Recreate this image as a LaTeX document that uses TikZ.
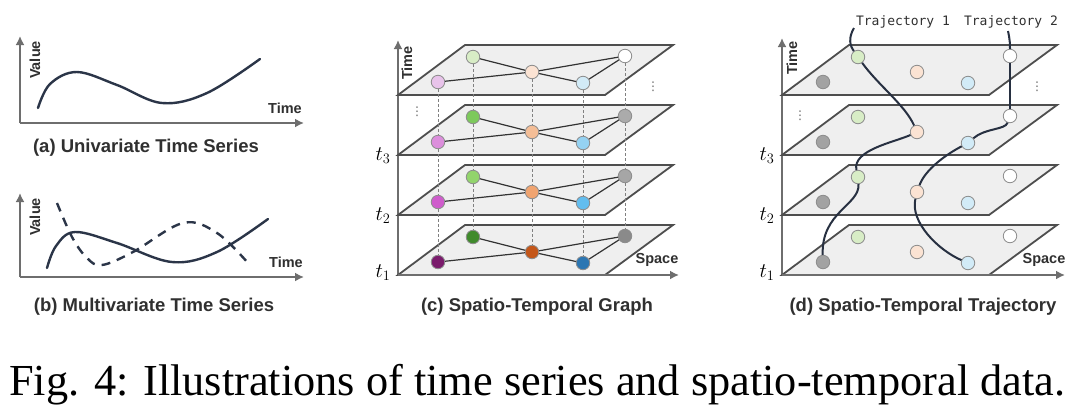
\documentclass[tikz,border=0pt]{standalone}
\usepackage{fontspec}
\setsansfont{Liberation Sans}
\setmainfont{Liberation Serif}
\newfontfamily\trajfont{DejaVu Sans Mono}
\newfontfamily\symfont{DejaVu Sans}
\usetikzlibrary{arrows.meta}
\definecolor{curvecol}{HTML}{2B3548}
\definecolor{axiscol}{HTML}{6E6E6E}
\definecolor{planeedge}{HTML}{4E4E4E}
\definecolor{planefill}{HTML}{EFEFEF}
\definecolor{txtcol}{HTML}{303030}
% panel c colours, plane 4 (top) .. plane 1 (bottom)
\definecolor{pA}{HTML}{E8C3EA}\definecolor{gA}{HTML}{D8EDC6}\definecolor{oA}{HTML}{FBE3D3}\definecolor{lA}{HTML}{D2EBF7}\definecolor{wA}{HTML}{FFFFFF}
\definecolor{pB}{HTML}{DC8EDC}\definecolor{gB}{HTML}{7DC95C}\definecolor{oB}{HTML}{F4BE97}\definecolor{lB}{HTML}{95D2F2}\definecolor{wB}{HTML}{ABABAB}
\definecolor{pC}{HTML}{CF5CCC}\definecolor{gC}{HTML}{92D46C}\definecolor{oC}{HTML}{F0A470}\definecolor{lC}{HTML}{62BDEF}\definecolor{wC}{HTML}{A6A6A6}
\definecolor{pD}{HTML}{7A1B6C}\definecolor{gD}{HTML}{408A2C}\definecolor{oD}{HTML}{C4571A}\definecolor{lD}{HTML}{2C76B2}\definecolor{wD}{HTML}{8A8A8A}
% panel d colours
\definecolor{kE}{HTML}{A2A2A2}
\newcommand\stplane[2]{\draw[plane] (#1,#2) -- ++(207,0) -- ++(68,-50) -- ++(-208,0) -- cycle;}
% #1 prefix, #2 x shift, #3 B, #4..#8 colours
\newcommand\gnodes[8]{%
  \node[gn,fill=#4] (#1P) at (438+#2,#3-13) {};
  \node[gn,fill=#5] (#1G) at (473+#2,#3-38) {};
  \node[gn,fill=#6] (#1O) at (532+#2,#3-23) {};
  \node[gn,fill=#7] (#1L) at (583+#2,#3-12) {};
  \node[gn,fill=#8] (#1W) at (625+#2,#3-39) {};}
\newcommand\gedges[1]{\draw[ge] (#1P)--(#1O) (#1G)--(#1O) (#1O)--(#1L) (#1L)--(#1W) (#1O)--(#1W);}
\begin{document}
\begin{tikzpicture}[x=1pt,y=-1pt,
  axis/.style={draw=axiscol,line width=2.4pt,-{Latex[length=9pt,width=9pt]}},
  curv/.style={draw=curvecol,line width=2.4pt,line cap=round},
  dcurv/.style={curv,dash pattern=on 9pt off 7pt,line cap=butt},
  plane/.style={draw=planeedge,fill=planefill,line width=1.8pt,line join=miter},
  gn/.style={circle,draw=black!45,line width=0.8pt,minimum size=13.5pt,inner sep=0pt},
  ge/.style={draw=black!80,line width=1.2pt},
  vdash/.style={draw=black!50,line width=0.7pt,dash pattern=on 3pt off 2pt},
  traj/.style={draw=curvecol!90!black,line width=2pt},
  lab/.style={font=\sffamily\bfseries\fontsize{14.5}{14.5}\selectfont,text=txtcol,inner sep=0pt},
  subcap/.style={font=\sffamily\bfseries\fontsize{18.5}{18.5}\selectfont,text=txtcol,inner sep=0pt},
  tlab/.style={inner sep=0pt,font=\fontsize{20}{20}\selectfont},
  dots/.style={inner sep=0pt,text=black!60,font=\symfont\fontsize{12}{12}\selectfont},
  tr/.style={font=\trajfont\fontsize{13}{13}\selectfont,text=txtcol,inner sep=0pt}]
\useasboundingbox (0,0) rectangle (1080,416);
\fill[white] (0,0) rectangle (1080,416);

% ---------- (a) ----------
\coordinate (aO) at (20,123); \coordinate (aY) at (20,36); \coordinate (aX) at (304,123);
\draw[axis] (aO) -- (aY);
\draw[axis] (aO) -- (aX);
\draw[curv] plot[smooth,tension=0.6] coordinates {(38,108) (50,84) (77,72) (117,85) (162,103) (207,93) (260,59)};
\node[lab,rotate=90] (aval) at (35,60) {Value};
\node[lab] (atime) at (285,108) {Time};
\node[subcap] (acap) at (146,148) {(a) Univariate Time Series};

% ---------- (b) ----------
\coordinate (bO) at (20,277); \coordinate (bY) at (20,193); \coordinate (bX) at (304,277);
\draw[axis] (bO) -- (bY);
\draw[axis] (bO) -- (bX);
\draw[curv] plot[smooth,tension=0.6] coordinates {(47,268) (56,246) (75,232) (117,243) (172,262) (217,252) (268,219)};
\draw[dcurv] plot[smooth,tension=0.6] coordinates {(57,203) (72,237) (87,258) (102,265) (133,252) (183,223) (217,233) (248,263)};
\node[lab,rotate=90] (bval) at (35,217) {Value};
\node[lab] (btime) at (286,262) {Time};
\node[subcap] (bcap) at (154,307) {(b) Multivariate Time Series};

% ---------- (c) ----------
\coordinate (cO) at (398,275); \coordinate (cY) at (398,40); \coordinate (cX) at (679,275);
\draw[axis] (cO) -- (cY);
\stplane{398}{95}
\stplane{398}{155}
\stplane{398}{215}
\stplane{398}{275}
\draw[axis] (cO) -- (cX);
\gnodes{c4}{0}{95}{pA}{gA}{oA}{lA}{wA}
\gnodes{c3}{0}{155}{pB}{gB}{oB}{lB}{wB}
\gnodes{c2}{0}{215}{pC}{gC}{oC}{lC}{wC}
\gnodes{c1}{0}{275}{pD}{gD}{oD}{lD}{wD}
\foreach \k in {P,G,O,L,W}{
  \draw[vdash] (c4\k) -- (c3\k);
  \draw[vdash] (c3\k) -- (c2\k);
  \draw[vdash] (c2\k) -- (c1\k);}
\gedges{c4}\gedges{c3}\gedges{c2}\gedges{c1}
\node[lab,rotate=90] (ctime) at (407,63) {Time};
\node[lab] (cspace) at (657,260) {Space};
\node[tlab] (ct3) at (383,156) {$t_3$};
\node[tlab] (ct2) at (383,216) {$t_2$};
\node[tlab] (ct1) at (383,273) {$t_1$};
\node[dots] (cd1) at (417,112) {⋮};
\node[dots] (cd2) at (653,87) {⋮};
\node[subcap] (ccap) at (537,307) {(c) Spatio-Temporal Graph};

% ---------- (d) ----------
\coordinate (dO) at (782,275); \coordinate (dY) at (782,38); \coordinate (dX) at (1065,275);
\draw[axis] (dO) -- (dY);
\stplane{782}{95}
\stplane{782}{155}
\stplane{782}{215}
\stplane{782}{275}
\draw[axis] (dO) -- (dX);
\gnodes{d4}{385}{95}{kE}{gA}{oA}{lA}{wA}
\gnodes{d3}{385}{155}{kE}{gA}{oA}{lA}{wA}
\gnodes{d2}{385}{215}{kE}{gA}{oA}{lA}{wA}
\gnodes{d1}{385}{275}{kE}{gA}{oA}{lA}{wA}
\node[tr] (tr1) at (903,22) {Trajectory 1};
\node[tr] (tr2) at (1011,22) {Trajectory 2};
\coordinate (tr1s) at (854,28);
\coordinate (tr2s) at (1008,31);
% trajectory 1
\draw[traj] (tr1s) .. controls (848,38) and (850,46) .. (d4G);
\draw[traj] (d4G) .. controls (878,85) and (905,105) .. (d3O);
\draw[traj] (d3O) .. controls (895,142) and (852,150) .. (d2G);
\draw[traj] (d2G) .. controls (860,205) and (821,212) .. (d1P);
% trajectory 2
\draw[traj] (tr2s) .. controls (1010,40) and (1010,45) .. (d4W);
\draw[traj] (d4W) -- (d3W);
\draw[traj] (d3W) .. controls (1005,130) and (985,128) .. (d3L);
\draw[traj] (d3L) .. controls (945,155) and (925,170) .. (d2O);
\draw[traj] (d2O) .. controls (910,222) and (938,250) .. (d1L);
\node[lab,rotate=90] (dtime) at (792,58) {Time};
\node[lab] (dspace) at (1044,260) {Space};
\node[tlab] (dt3) at (767,156) {$t_3$};
\node[tlab] (dt2) at (767,216) {$t_2$};
\node[tlab] (dt1) at (767,273) {$t_1$};
\node[dots] (dd1) at (800,116) {⋮};
\node[dots] (dd2) at (1037,87) {⋮};
\node[subcap] (dcap) at (923,307) {(d) Spatio-Temporal Trajectory};

% ---------- caption ----------
\node[anchor=base west,inner sep=0pt] (fig) at (9,395) {\resizebox{1056pt}{!}{\fontsize{40}{40}\selectfont Fig. 4: Illustrations of time series and spatio-temporal data.}};
\end{tikzpicture}
\end{document}
